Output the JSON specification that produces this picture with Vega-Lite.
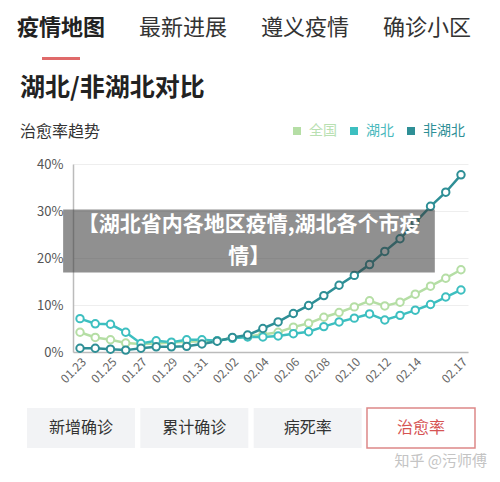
{
  "$schema": "https://vega.github.io/schema/vega-lite/v6.json",
  "background": "white",
  "padding": {"left": 0, "top": 0, "right": 0, "bottom": 0},
  "spacing": 0,
  "config": {"view": {"stroke": null}, "font": "Noto Sans CJK SC"},
  "resolve": {"scale": {"color": "independent"}, "legend": {"color": "independent"}},
  "datasets": {
    "tabs": [
      {"tab": "疫情地图", "active": true},
      {"tab": "最新进展", "active": false},
      {"tab": "遵义疫情", "active": false},
      {"tab": "确诊小区", "active": false}
    ],
    "buttons": [
      {"btn": "新增确诊", "active": false},
      {"btn": "累计确诊", "active": false},
      {"btn": "病死率", "active": false},
      {"btn": "治愈率", "active": true}
    ],
    "rates": [
      {"date": "01.23", "series": "全国", "rate": 4.2}, {"date": "01.23", "series": "湖北", "rate": 7.1}, {"date": "01.23", "series": "非湖北", "rate": 0.8},
      {"date": "01.24", "series": "全国", "rate": 3.1}, {"date": "01.24", "series": "湖北", "rate": 6.0}, {"date": "01.24", "series": "非湖北", "rate": 0.8},
      {"date": "01.25", "series": "全国", "rate": 2.6}, {"date": "01.25", "series": "湖北", "rate": 5.9}, {"date": "01.25", "series": "非湖北", "rate": 0.6},
      {"date": "01.26", "series": "全国", "rate": 1.9}, {"date": "01.26", "series": "湖北", "rate": 4.2}, {"date": "01.26", "series": "非湖北", "rate": 0.4},
      {"date": "01.27", "series": "全国", "rate": 1.7}, {"date": "01.27", "series": "湖北", "rate": 1.8}, {"date": "01.27", "series": "非湖北", "rate": 0.8},
      {"date": "01.28", "series": "全国", "rate": 1.8}, {"date": "01.28", "series": "湖北", "rate": 2.4}, {"date": "01.28", "series": "非湖北", "rate": 1.1},
      {"date": "01.29", "series": "全国", "rate": 2.0}, {"date": "01.29", "series": "湖北", "rate": 2.1}, {"date": "01.29", "series": "非湖北", "rate": 1.1},
      {"date": "01.30", "series": "全国", "rate": 2.2}, {"date": "01.30", "series": "湖北", "rate": 2.6}, {"date": "01.30", "series": "非湖北", "rate": 1.2},
      {"date": "01.31", "series": "全国", "rate": 2.3}, {"date": "01.31", "series": "湖北", "rate": 2.6}, {"date": "01.31", "series": "非湖北", "rate": 1.7},
      {"date": "02.01", "series": "全国", "rate": 2.4}, {"date": "02.01", "series": "湖北", "rate": 2.4}, {"date": "02.01", "series": "非湖北", "rate": 2.3},
      {"date": "02.02", "series": "全国", "rate": 3.0}, {"date": "02.02", "series": "湖北", "rate": 2.9}, {"date": "02.02", "series": "非湖北", "rate": 3.1},
      {"date": "02.03", "series": "全国", "rate": 3.3}, {"date": "02.03", "series": "湖北", "rate": 3.2}, {"date": "02.03", "series": "非湖北", "rate": 3.6},
      {"date": "02.04", "series": "全国", "rate": 3.7}, {"date": "02.04", "series": "湖北", "rate": 3.2}, {"date": "02.04", "series": "非湖北", "rate": 5.0},
      {"date": "02.05", "series": "全国", "rate": 4.2}, {"date": "02.05", "series": "湖北", "rate": 3.4}, {"date": "02.05", "series": "非湖北", "rate": 6.4},
      {"date": "02.06", "series": "全国", "rate": 5.3}, {"date": "02.06", "series": "湖北", "rate": 3.9}, {"date": "02.06", "series": "非湖北", "rate": 8.2},
      {"date": "02.07", "series": "全国", "rate": 6.1}, {"date": "02.07", "series": "湖北", "rate": 4.3}, {"date": "02.07", "series": "非湖北", "rate": 9.9},
      {"date": "02.08", "series": "全国", "rate": 7.4}, {"date": "02.08", "series": "湖北", "rate": 5.4}, {"date": "02.08", "series": "非湖北", "rate": 12.0},
      {"date": "02.09", "series": "全国", "rate": 8.4}, {"date": "02.09", "series": "湖北", "rate": 6.4}, {"date": "02.09", "series": "非湖北", "rate": 14.2},
      {"date": "02.10", "series": "全国", "rate": 9.6}, {"date": "02.10", "series": "湖北", "rate": 7.2}, {"date": "02.10", "series": "非湖北", "rate": 16.3},
      {"date": "02.11", "series": "全国", "rate": 10.9}, {"date": "02.11", "series": "湖北", "rate": 8.1}, {"date": "02.11", "series": "非湖北", "rate": 18.6},
      {"date": "02.12", "series": "全国", "rate": 9.8}, {"date": "02.12", "series": "湖北", "rate": 6.8}, {"date": "02.12", "series": "非湖北", "rate": 21.4},
      {"date": "02.13", "series": "全国", "rate": 10.6}, {"date": "02.13", "series": "湖北", "rate": 7.8}, {"date": "02.13", "series": "非湖北", "rate": 24.1},
      {"date": "02.14", "series": "全国", "rate": 12.3}, {"date": "02.14", "series": "湖北", "rate": 8.9}, {"date": "02.14", "series": "非湖北", "rate": 27.6},
      {"date": "02.15", "series": "全国", "rate": 14.0}, {"date": "02.15", "series": "湖北", "rate": 10.1}, {"date": "02.15", "series": "非湖北", "rate": 31.0},
      {"date": "02.16", "series": "全国", "rate": 15.7}, {"date": "02.16", "series": "湖北", "rate": 11.7}, {"date": "02.16", "series": "非湖北", "rate": 34.0},
      {"date": "02.17", "series": "全国", "rate": 17.5}, {"date": "02.17", "series": "湖北", "rate": 13.2}, {"date": "02.17", "series": "非湖北", "rate": 37.7}
    ]
  },
  "vconcat": [
    {
      "width": 488,
      "height": 76,
      "data": {"name": "tabs"},
      "encoding": {
        "x": {"field": "tab", "type": "nominal", "scale": {"type": "point", "padding": 0.5, "domain": ["疫情地图", "最新进展", "遵义疫情", "确诊小区"]}, "axis": null}
      },
      "layer": [
        {
          "transform": [{"filter": "datum.active"}],
          "mark": {"type": "text", "fontSize": 22, "fontWeight": "bold", "color": "#222222", "baseline": "middle"},
          "encoding": {"text": {"field": "tab"}, "y": {"datum": 0.632, "type": "quantitative", "scale": {"domain": [0, 1]}, "axis": null}}
        },
        {
          "transform": [{"filter": "!datum.active"}],
          "mark": {"type": "text", "fontSize": 22, "color": "#333333", "baseline": "middle"},
          "encoding": {"text": {"field": "tab"}, "y": {"datum": 0.632, "type": "quantitative"}}
        },
        {
          "transform": [{"filter": "datum.active"}],
          "mark": {"type": "tick", "orient": "horizontal", "thickness": 3, "size": 38, "color": "#e06a6a", "opacity": 1},
          "encoding": {"y": {"datum": 0.23, "type": "quantitative"}}
        }
      ]
    },
    {
      "spacing": 0,
      "resolve": {"scale": {"color": "independent"}, "legend": {"color": "independent"}},
      "hconcat": [
        {
          "width": 20,
          "height": 10,
          "data": {"values": []},
          "mark": "point",
          "encoding": {}
        },
        {
          "width": 395,
          "height": 188,
          "title": {
            "text": "湖北/非湖北对比",
            "subtitle": "治愈率趋势",
            "anchor": "start",
            "frame": "group",
            "dx": -53,
            "offset": -16,
            "fontSize": 25,
            "fontWeight": "bold",
            "color": "#222222",
            "subtitleFontSize": 16,
            "subtitleColor": "#333333",
            "subtitlePadding": 23
          },
          "layer": [
            {
              "data": {"name": "rates"},
              "encoding": {
                "x": {"field": "date", "type": "ordinal", "scale": {"type": "point", "padding": 0.46},
                  "axis": {"title": null, "values": ["01.23", "01.25", "01.27", "01.29", "01.31", "02.02", "02.04", "02.06", "02.08", "02.10", "02.12", "02.14", "02.17"],
                    "labelAngle": -45, "ticks": false, "labelPadding": 4, "labelFontSize": 12, "labelColor": "#666666",
                    "domainColor": "#bbbbbb", "domainWidth": 1.5, "grid": false}},
                "y": {"field": "rate", "type": "quantitative", "scale": {"domain": [0, 40], "nice": false},
                  "axis": {"title": null, "values": [0, 10, 20, 30, 40], "labelExpr": "datum.value + '%'", "ticks": false,
                    "labelPadding": 10, "labelFontSize": 13, "labelColor": "#555555", "domainColor": "#bbbbbb", "domainWidth": 1.5,
                    "gridColor": "#eeeeee", "gridWidth": 1}},
                "color": {"field": "series", "type": "nominal",
                  "scale": {"domain": ["全国", "湖北", "非湖北"], "range": ["#b5dea5", "#3dbfc0", "#2e8f96"]},
                  "legend": {"orient": "none", "legendX": 217, "legendY": -40, "direction": "horizontal", "title": null,
                    "symbolType": "square", "symbolSize": 64, "labelFontSize": 14, "columnPadding": 10, "labelOffset": 5,
                    "encode": {
                      "symbols": {"update": {"fill": {"signal": "datum.value === '全国' ? '#b5dea5' : datum.value === '湖北' ? '#3dbfc0' : '#2e8f96'"}, "fillOpacity": {"value": 1}, "strokeWidth": {"value": 0}}},
                      "labels": {"update": {"fill": {"signal": "datum.value === '全国' ? '#b9e0b2' : datum.value === '湖北' ? '#49b9bd' : '#2e8f96'"}}}
                    }}}
              },
              "layer": [
                {"mark": {"type": "line", "strokeWidth": 2.5}},
                {"mark": {"type": "point", "filled": false, "fill": "white", "fillOpacity": 1, "size": 55, "strokeWidth": 2, "opacity": 1}}
              ]
            },
            {
              "data": {"values": [{}]},
              "layer": [
                {
                  "mark": {"type": "rect", "color": "#3c3c3c", "opacity": 0.57, "clip": false},
                  "encoding": {
                    "x": {"datum": -0.025, "type": "quantitative", "scale": {"domain": [0, 1], "nice": false, "zero": false}, "axis": null},
                    "x2": {"datum": 0.916},
                    "y": {"datum": 30.3, "type": "quantitative"},
                    "y2": {"datum": 16.9}
                  }
                },
                {
                  "mark": {"type": "text", "text": ["【湖北省内各地区疫情,湖北各个市疫", "情】"], "fontSize": 21, "fontWeight": "bold", "color": "white", "lineHeight": 32, "align": "center", "baseline": "middle"},
                  "encoding": {
                    "x": {"datum": 0.446, "type": "quantitative"},
                    "y": {"datum": 27.1, "type": "quantitative"}
                  }
                }
              ]
            }
          ],
          "resolve": {"scale": {"x": "independent"}}
        }
      ]
    },
    {
      "width": 494,
      "height": 90,
      "data": {"name": "buttons"},
      "encoding": {
        "x": {"field": "btn", "type": "nominal", "scale": {"type": "band", "domain": ["新增确诊", "累计确诊", "病死率", "治愈率"], "paddingInner": 0.047, "paddingOuter": 0.203, "align": 0.587}, "axis": null}
      },
      "layer": [
        {
          "transform": [{"filter": "!datum.active"}],
          "mark": {"type": "rect", "color": "#f2f3f5"},
          "encoding": {"y": {"datum": 0.744, "type": "quantitative", "scale": {"domain": [0, 1]}, "axis": null}, "y2": {"datum": 0.3}}
        },
        {
          "transform": [{"filter": "datum.active"}],
          "mark": {"type": "rect", "fill": "white", "stroke": "#dd8888", "strokeWidth": 1.5},
          "encoding": {"y": {"datum": 0.744, "type": "quantitative"}, "y2": {"datum": 0.3}}
        },
        {
          "transform": [{"filter": "!datum.active"}],
          "mark": {"type": "text", "fontSize": 16, "color": "#333333", "baseline": "middle"},
          "encoding": {"text": {"field": "btn"}, "y": {"datum": 0.522, "type": "quantitative"}}
        },
        {
          "transform": [{"filter": "datum.active"}],
          "mark": {"type": "text", "fontSize": 16, "color": "#d65454", "baseline": "middle"},
          "encoding": {"text": {"field": "btn"}, "y": {"datum": 0.522, "type": "quantitative"}}
        },
        {
          "transform": [{"filter": "datum.active"}],
          "mark": {"type": "text", "text": "知乎 @污师傅", "fontSize": 15, "color": "#c4c4c4", "align": "right", "baseline": "middle", "dx": 12},
          "encoding": {"x": {"field": "btn", "type": "nominal", "bandPosition": 1}, "y": {"datum": 0.156, "type": "quantitative"}}
        }
      ]
    }
  ]
}
